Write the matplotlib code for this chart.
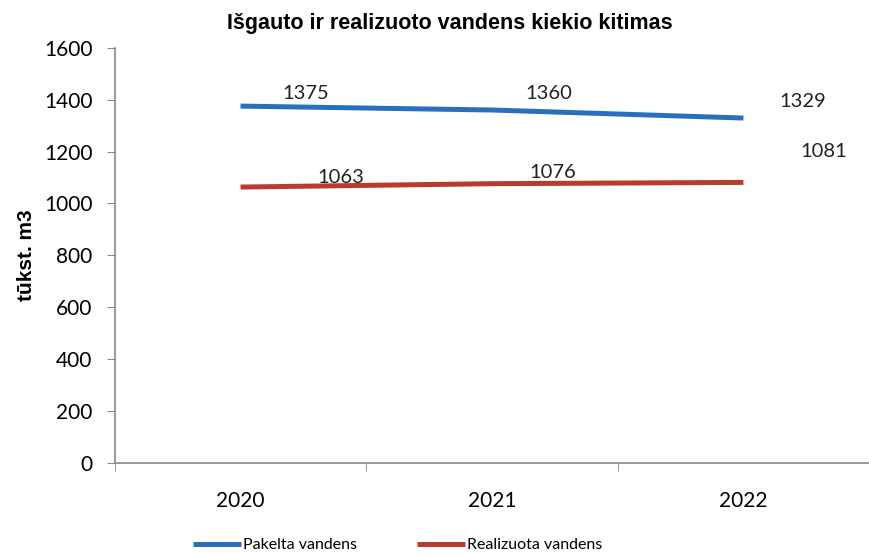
import matplotlib
matplotlib.use("Agg")
from matplotlib import pyplot as plt

years = ["2020", "2021", "2022"]
pakelta = [1375, 1360, 1329]
realizuota = [1063, 1076, 1081]

# label offsets (points), as they sit in the original
pak_off = [(47, 9), (41, 12), (43, 12)]
rea_off = [(72, 7), (44, 8), (58, 22)]

plt.rcParams['font.family'] = ['Lato', 'DejaVu Sans']

fig = plt.figure(figsize=(8.7, 5.55), dpi=100)
ax = fig.add_axes([0.132, 0.166, 0.867, 0.748])

x = list(range(len(years)))
ax.plot(x, pakelta, color='#2a6fbd', lw=3.6, solid_capstyle='butt', label='Pakelta vandens')
ax.plot(x, realizuota, color='#b83a31', lw=3.6, solid_capstyle='butt', label='Realizuota vandens')

for i, v in enumerate(pakelta):
    ax.annotate(str(v), (i, v), xytext=pak_off[i], textcoords='offset points',
                ha='center', va='center', fontsize=14.5, color='#222222')
for i, v in enumerate(realizuota):
    ax.annotate(str(v), (i, v), xytext=rea_off[i], textcoords='offset points',
                ha='center', va='center', fontsize=14.5, color='#222222')

ax.set_xlim(-0.5, 2.5)
ax.set_ylim(0, 1600)
ax.set_yticks(range(0, 1601, 200))
ax.set_xticks(x)
ax.set_xticklabels(years)
ax.set_xticks([-0.5, 0.5, 1.5, 2.5], minor=True)
ax.tick_params(axis='x', which='major', length=0, pad=20, labelsize=15)
ax.tick_params(axis='x', which='minor', length=6, color='#888888', direction='out')
ax.tick_params(axis='y', length=6, color='#888888', labelsize=15, pad=10)

for s in ['top', 'right']:
    ax.spines[s].set_visible(False)
for s in ['left', 'bottom']:
    ax.spines[s].set_color('#888888')
    ax.spines[s].set_linewidth(1.2)

ax.set_ylabel('tūkst. m3', fontsize=15, fontweight='bold', family=['Liberation Sans', 'DejaVu Sans'], labelpad=6)
fig.text(0.517, 0.958, 'Išgauto ir realizuoto vandens kiekio kitimas', ha='center', va='center',
         fontsize=15.5, fontweight='bold', family=['Liberation Sans', 'DejaVu Sans'])

fig.legend(loc='center', bbox_to_anchor=(0.457, 0.018), ncol=2, frameon=False, fontsize=11.5,
           handlelength=3.0, handletextpad=0.1, columnspacing=3.8)

fig.savefig('out.png', dpi=100)
